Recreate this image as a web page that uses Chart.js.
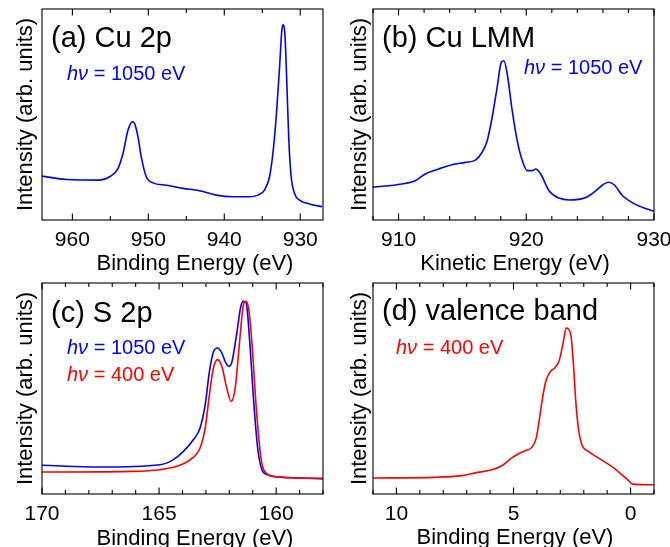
<!DOCTYPE html>
<html><head><meta charset="utf-8">
<script src="https://cdn.jsdelivr.net/npm/chart.js@4"></script>
<style>
html,body{margin:0;padding:0;background:#fff;overflow:hidden}
#wrap{position:relative;width:670px;height:547px;overflow:hidden;background:#fff}
canvas{position:absolute;display:block}
</style></head><body>
<div id="wrap">
<canvas id="ca" width="335" height="275" style="left:0;top:0;width:335px;height:275px"></canvas>
<canvas id="cb" width="335" height="275" style="left:335px;top:0;width:335px;height:275px"></canvas>
<canvas id="cc" width="335" height="272" style="left:0;top:275px;width:335px;height:272px"></canvas>
<canvas id="cd" width="335" height="272" style="left:335px;top:275px;width:335px;height:272px"></canvas>
</div>
<script>
// ---------- data ----------
const cu2pBE  = [964.04,960.79,956.41,955.09,954.00,953.34,952.68,952.11,951.80,951.36,950.93,950.27,949.39,947.64,945.44,943.25,941.06,938.86,936.67,935.57,934.70,934.04,933.60,933.16,932.72,932.42,932.24,932.02,931.76,931.50,931.19,930.75,930.09,928.78,927.11];
const cu2pInt = [20.8,19.2,18.9,20.5,24.4,31.5,42.5,46.5,45.7,39.4,29.9,20.5,17.6,16.5,15.0,13.9,11.8,11.0,11.0,11.8,14.2,20.5,31.5,48.8,72.4,89.8,92.6,88.2,64.6,37.8,20.5,12.6,9.4,7.6,6.3];

const lmmKE  = [907.98,910.26,911.31,912.09,913.14,914.19,915.24,916.02,916.54,916.94,917.33,917.72,918.04,918.25,918.51,918.9,919.29,919.69,920.08,920.47,920.73,921.13,921.78,922.57,923.35,924.66,925.45,925.97,926.44,926.88,927.54,928.59,930.08];
const lmmInt = [15.5,17.1,18.6,21.8,24.2,26.2,27.3,28.4,32.1,37.6,48.7,62.9,74.7,75.5,69.2,51.8,37.6,28.1,23.4,23.4,24.2,21.8,13.9,10.4,9.5,10.7,13.9,16.6,17.9,16.7,11.5,7.3,3.9];

const s2pBE1050  = [170.0,167.53,164.96,164.39,163.96,163.53,163.25,163.03,162.85,162.68,162.50,162.32,162.15,162.03,161.89,161.68,161.51,161.39,161.28,161.14,160.96,160.79,160.61,160.39,159.97,158.97,158.0];
const s2pInt1050 = [13.6,12.8,13.9,16.3,20.2,25.8,31.3,42.3,58.1,67.3,69.2,66.8,62.1,60.5,62.6,76.3,88.9,91.3,90.5,73.9,43.9,21.8,11.5,9.2,8.2,7.6,7.3];
const s2pBE400   = [170.0,166.10,164.96,164.25,163.67,163.25,163.03,162.85,162.68,162.50,162.32,162.11,161.92,161.75,161.56,161.42,161.32,161.18,161.04,160.85,160.65,160.39,159.97,158.0];
const s2pInt400  = [10.4,10.7,11.5,13.1,16.3,21.8,31.3,47.1,59.7,63.7,60.5,50.2,43.9,50.2,72.4,88.2,91.3,88.2,72.4,40.8,17.1,9.5,8.1,7.3];

const vbBE  = [10.99,8.34,7.20,6.63,5.92,5.50,5.07,4.79,4.50,4.22,4.03,3.91,3.76,3.62,3.44,3.22,3.05,2.88,2.75,2.66,2.54,2.44,2.34,2.23,2.09,1.80,1.38,0.81,0.38,0.10,-0.07,-0.99];
const vbInt = [7.6,7.9,8.7,10.0,11.5,13.4,17.1,19.1,20.5,22.1,26.5,34.4,45.5,53.4,57.8,60.0,63.2,71.6,78.7,78.2,74.7,61.3,43.9,31.3,23.7,20.2,17.1,13.1,9.2,6.5,4.7,4.4];

const ticksA = [960,950,940,930];  const tickLabelsA = ['960','950','940','930'];
const ticksB = [910,920,930];      const tickLabelsB = ['910','920','930'];
const ticksC = [170,165,160];      const tickLabelsC = ['170','165','160'];
const ticksD = [10,5,0];           const tickLabelsD = ['10','5','0'];

const BLUE = '#0000ff', RED = '#ff0000';
const FONT = "'Liberation Sans', Arial, Helvetica, sans-serif";

function pts(xs, ys){ return xs.map((x,i)=>({x:x, y:ys[i]})); }

function decoPlugin(p){
  return {
    id:'deco',
    afterDraw(chart){
      const ctx = chart.ctx, a = chart.chartArea, xs = chart.scales.x;
      ctx.save();
      ctx.strokeStyle = '#000'; ctx.lineWidth = 1.1;
      ctx.strokeRect(a.left, a.top, a.right - a.left, a.bottom - a.top);
      const drawTick = (v, len) => {
        const px = xs.getPixelForValue(v);
        ctx.beginPath();
        ctx.moveTo(px, a.bottom); ctx.lineTo(px, a.bottom - len);
        ctx.moveTo(px, a.top); ctx.lineTo(px, a.top + len);
        ctx.stroke();
      };
      p.majors.forEach(v => drawTick(v, 6.5));
      const lo = Math.min(p.min, p.max), hi = Math.max(p.min, p.max);
      for (let v = Math.ceil(lo / p.minor - 1e-9) * p.minor; v <= hi + 1e-9; v += p.minor) {
        if (!p.majors.some(m => Math.abs(m - v) < 1e-6)) drawTick(v, 4);
      }
      ctx.textBaseline = 'alphabetic'; ctx.textAlign = 'left';
      p.texts.forEach(t => {
        let x = t.x;
        t.parts.forEach(pt => {
          ctx.font = (pt[1] ? 'italic ' : '') + t.size + 'px ' + FONT;
          ctx.fillStyle = pt[2];
          ctx.fillText(pt[0], x, t.y);
          x += ctx.measureText(pt[0]).width;
        });
      });
      ctx.font = '22px ' + FONT; ctx.fillStyle = '#000'; ctx.textAlign = 'center';
      ctx.fillText(p.xTitle.text, p.xTitle.x, p.xTitle.y);
      ctx.restore();
    }
  };
}

function makePanel(id, p){
  new Chart(document.getElementById(id), {
    type:'line',
    data:{ datasets: p.datasets.map(d => ({
      data: d.data, borderColor: d.color, borderWidth: 1.6, pointRadius: 0,
      fill: false, cubicInterpolationMode: 'monotone', order: d.order
    })) },
    options:{
      responsive:false, animation:false, devicePixelRatio:1,
      layout:{ padding:{ top:p.padTop, right:p.padRight, left:0, bottom:0 } },
      plugins:{ legend:{display:false}, tooltip:{enabled:false} },
      scales:{
        x:{
          type:'linear', min:p.min, max:p.max, reverse:p.reverse,
          afterBuildTicks: s => { s.ticks = p.majors.map(v => ({value:v})); },
          afterFit: s => { s.height = p.xHeight; s.paddingLeft = 0; s.paddingRight = 0; },
          ticks:{ font:{size:21, family:FONT}, color:'#000', padding:p.tickPad, maxRotation:0, autoSkip:false,
                  callback:(v, i) => p.labels[i] },
          grid:{ display:false, drawTicks:false }, border:{ display:false }
        },
        y:{
          min:0, max:100,
          afterFit: s => { s.width = p.yWidth; s.paddingTop = 0; s.paddingBottom = 0; },
          ticks:{ display:false }, grid:{ display:false, drawTicks:false }, border:{ display:false },
          title:{ display:true, text:'Intensity (arb. units)', color:'#000', font:{size:22, family:FONT},
                  padding:{ top:p.yTitlePad, bottom:0 } }
        }
      }
    },
    plugins:[ decoPlugin(p) ]
  });
}

makePanel('ca', {
  datasets:[{data:pts(cu2pBE, cu2pInt), color:BLUE, order:0}],
  min:927.0, max:964, reverse:true, majors:ticksA, labels:tickLabelsA, minor:5,
  padTop:9, padRight:12, yWidth:42, xHeight:55, tickPad:8, yTitlePad:12.5,
  texts:[ {x:51, y:47, size:29, parts:[['(a) Cu 2p', false, '#000']]},
          {x:67, y:80, size:20, parts:[['hν', true, BLUE], [' = 1050 eV', false, BLUE]]} ],
  xTitle:{ text:'Binding Energy (eV)', x:195, y:270 }
});
makePanel('cb', {
  datasets:[{data:pts(lmmKE, lmmInt), color:BLUE, order:0}],
  min:908, max:930, reverse:false, majors:ticksB, labels:tickLabelsB, minor:2,
  padTop:9, padRight:16, yWidth:38, xHeight:55, tickPad:8, yTitlePad:11.5,
  texts:[ {x:382, y:47, size:29, parts:[['(b) Cu LMM', false, '#000']]},
          {x:524, y:73.5, size:20, parts:[['hν', true, BLUE], [' = 1050 eV', false, BLUE]]} ].map(t => ({...t, x:t.x - 335})),
  xTitle:{ text:'Kinetic Energy (eV)', x:180, y:270 }
});
makePanel('cc', {
  datasets:[{data:pts(s2pBE1050, s2pInt1050), color:BLUE, order:1},
            {data:pts(s2pBE400, s2pInt400), color:RED, order:0}],
  min:158.0, max:170.0, reverse:true, majors:ticksC, labels:tickLabelsC, minor:1,
  padTop:8, padRight:12, yWidth:42, xHeight:53, tickPad:8, yTitlePad:12.5,
  texts:[ {x:51, y:46.7, size:29, parts:[['(c) S 2p', false, '#000']]},
          {x:67, y:79.3, size:20, parts:[['hν', true, BLUE], [' = 1050 eV', false, BLUE]]},
          {x:67, y:105.7, size:20, parts:[['hν', true, RED], [' = 400 eV', false, RED]]} ],
  xTitle:{ text:'Binding Energy (eV)', x:195, y:269.5 }
});
makePanel('cd', {
  datasets:[{data:pts(vbBE, vbInt), color:RED, order:0}],
  min:-1, max:11, reverse:true, majors:ticksD, labels:tickLabelsD, minor:1,
  padTop:8, padRight:16, yWidth:38, xHeight:53, tickPad:8, yTitlePad:11.5,
  texts:[ {x:382, y:45, size:29, parts:[['(d) valence band', false, '#000']]},
          {x:396, y:79, size:20, parts:[['hν', true, RED], [' = 400 eV', false, RED]]} ].map(t => ({...t, x:t.x - 335})),
  xTitle:{ text:'Binding Energy (eV)', x:180, y:269 }
});
</script>
</body></html>
